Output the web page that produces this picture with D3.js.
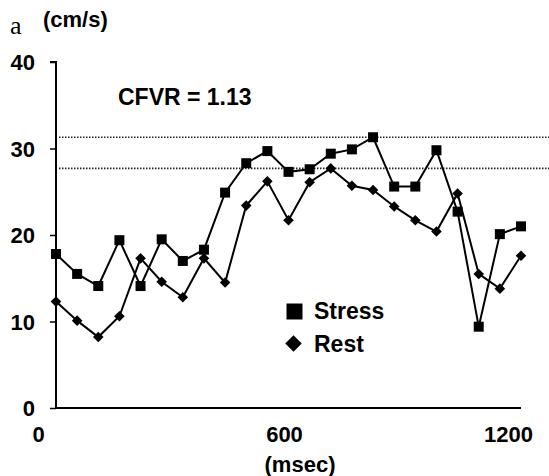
<!DOCTYPE html>
<html>
<head>
<meta charset="utf-8">
<script src="https://cdn.jsdelivr.net/npm/d3@7"></script>
<style>
  html, body { margin: 0; padding: 0; background: #fff; }
  svg { display: block; }
</style>
</head>
<body>
<svg id="chart" width="549" height="476"></svg>
<script>
// ---- data ----
const samples = d3.range(23); // sample index along the cardiac cycle
const stress = [17.8, 15.5, 14.1, 19.4, 14.1, 19.5, 17.0, 18.3, 24.9, 28.3, 29.7, 27.3, 27.6, 29.4, 29.9, 31.3, 25.6, 25.6, 29.8, 22.7, 9.4, 20.1, 21.0];
const rest   = [12.3, 10.1, 8.2, 10.6, 17.3, 14.6, 12.8, 17.3, 14.5, 23.4, 26.2, 21.7, 26.1, 27.7, 25.7, 25.2, 23.3, 21.7, 20.4, 24.8, 15.5, 13.8, 17.6];
const yTicks = [0, 10, 20, 30, 40];
const xTickLabels = [0, 600, 1200];
const seriesNames = ["Stress", "Rest"];
const cfvrText = "CFVR = 1.13";

// ---- layout ----
const svg = d3.select("#chart");
const font = "'Liberation Sans', Arial, sans-serif";
const axisX = 56, axisBottom = 408, axisTop = 62, plotRight = 521;

const x = d3.scalePoint().domain(samples).range([axisX, plotRight]);
const y = d3.scaleLinear().domain([0, 40]).range([axisBottom, axisTop]);
const xLab = d3.scaleLinear().domain([0, 600, 1200]).range([38, 284, 508]);

// reference dotted lines at peak velocities
const peaks = [d3.max(stress), d3.max(rest)];
svg.selectAll("line.ref").data(peaks).join("line")
  .attr("class", "ref")
  .attr("x1", 59).attr("x2", 549)
  .attr("y1", d => y(d)).attr("y2", d => y(d))
  .attr("stroke", "#222").attr("stroke-width", 1.6)
  .attr("stroke-dasharray", "1.5,1.5");

// y axis
const yAxis = d3.axisLeft(y).tickValues(yTicks).tickSize(6).tickFormat(d3.format("d"));
const gy = svg.append("g").attr("transform", `translate(${axisX},0)`).call(yAxis);
gy.select(".domain").attr("stroke", "#000").attr("stroke-width", 2).attr("d", `M-6,${axisTop}H0V${axisBottom}`);
gy.selectAll(".tick line").attr("stroke", "#000").attr("stroke-width", 1.5);
gy.selectAll(".tick text")
  .attr("x", -21).attr("dy", "0.36em")
  .style("font-family", font).style("font-size", "22px").style("font-weight", "bold")
  .attr("fill", "#000");

// x axis line
svg.append("line")
  .attr("x1", axisX).attr("x2", plotRight)
  .attr("y1", axisBottom).attr("y2", axisBottom)
  .attr("stroke", "#000").attr("stroke-width", 2);

// x tick labels
const xAxis = d3.axisBottom(xLab).tickValues(xTickLabels).tickSize(0).tickFormat(d3.format("d"));
const gx = svg.append("g").attr("transform", `translate(0,${axisBottom})`).call(xAxis);
gx.select(".domain").remove();
gx.selectAll(".tick text")
  .attr("y", 34).attr("dy", 0)
  .style("font-family", font).style("font-size", "22px").style("font-weight", "bold")
  .attr("fill", "#000");

// unit labels
svg.append("text").attr("x", 300).attr("y", 472).attr("text-anchor", "middle")
  .style("font-family", font).style("font-size", "22px").style("font-weight", "bold")
  .text("(msec)");
svg.append("text").attr("x", 43).attr("y", 27)
  .style("font-family", font).style("font-size", "22px").style("font-weight", "bold")
  .text("(cm/s)");
svg.append("text").attr("x", 10).attr("y", 34)
  .style("font-family", "'Liberation Serif', 'DejaVu Serif', serif").style("font-size", "26px")
  .text("a");

// CFVR
svg.append("text").attr("x", 118).attr("y", 105)
  .style("font-family", font).style("font-size", "23px").style("font-weight", "bold")
  .text(cfvrText);

// lines
const line = d3.line().x((d, i) => x(i)).y(d => y(d));
[stress, rest].forEach(s => {
  svg.append("path").datum(s).attr("d", line)
    .attr("fill", "none").attr("stroke", "#000").attr("stroke-width", 2);
});

// markers
const sq = d3.symbol().type(d3.symbolSquare).size(100);
const dia = d3.symbol().type(d3.symbolSquare).size(56);
svg.selectAll("path.sq").data(stress).join("path")
  .attr("class", "sq").attr("d", sq)
  .attr("transform", (d, i) => `translate(${x(i)},${y(d)})`).attr("fill", "#000");
svg.selectAll("path.dia").data(rest).join("path")
  .attr("class", "dia").attr("d", dia)
  .attr("transform", (d, i) => `translate(${x(i)},${y(d)}) rotate(45)`).attr("fill", "#000");

// legend
const leg = svg.append("g");
leg.append("path").attr("d", d3.symbol().type(d3.symbolSquare).size(256))
  .attr("transform", "translate(294.5,311.5)").attr("fill", "#000");
leg.append("path").attr("d", d3.symbol().type(d3.symbolSquare).size(136))
  .attr("transform", "translate(293.5,343.5) rotate(45)").attr("fill", "#000");
leg.selectAll("text").data(seriesNames).join("text")
  .attr("x", 314).attr("y", (d, i) => 319 + i * 33)
  .style("font-family", font).style("font-size", "23px").style("font-weight", "bold")
  .text(d => d);
</script>
</body>
</html>
